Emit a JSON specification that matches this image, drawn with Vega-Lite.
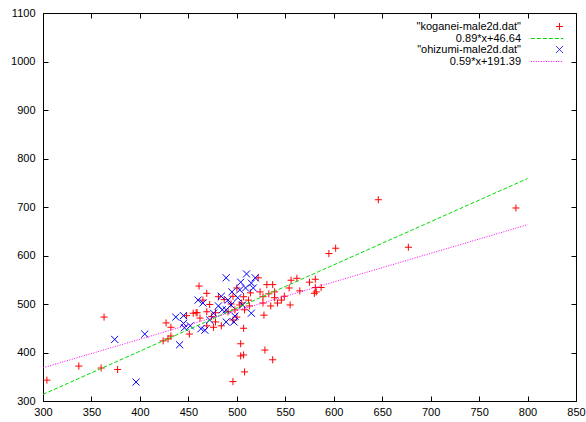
{
  "$schema": "https://vega.github.io/schema/vega-lite/v6.json",
  "width": 533,
  "height": 388,
  "autosize": {"type": "none"},
  "padding": {"left": 43, "top": 13, "right": 10, "bottom": 21},
  "background": "white",
  "config": {
    "font": "Liberation Sans",
    "view": {"stroke": "black", "strokeWidth": 1},
    "axis": {
      "grid": false,
      "domain": false,
      "tickColor": "black",
      "tickWidth": 1,
      "tickSize": -5,
      "labelColor": "black",
      "labelFontSize": 11,
      "labelFont": "Liberation Sans",
      "labelFlush": false,
      "labelOverlap": false,
      "format": "d",
      "title": null
    },
    "legend": {
      "orient": "none",
      "legendX": 511,
      "legendY": 8,
      "title": null,
      "symbolSize": 50,
      "symbolStrokeWidth": 1,
      "symbolFillColor": "transparent",
      "labelAlign": "right",
      "labelOffset": -44,
      "labelFontSize": 11,
      "labelFont": "Liberation Sans",
      "labelColor": "black",
      "rowPadding": -2,
      "padding": 0,
      "labelLimit": 300
    }
  },
  "datasets": {
    "pts": [
      {"series": "\"koganei-male2d.dat\"", "x": 304, "y": 343},
      {"series": "\"koganei-male2d.dat\"", "x": 337, "y": 372},
      {"series": "\"koganei-male2d.dat\"", "x": 360, "y": 368},
      {"series": "\"koganei-male2d.dat\"", "x": 377, "y": 365},
      {"series": "\"koganei-male2d.dat\"", "x": 363, "y": 473},
      {"series": "\"koganei-male2d.dat\"", "x": 646, "y": 715},
      {"series": "\"koganei-male2d.dat\"", "x": 788, "y": 698},
      {"series": "\"koganei-male2d.dat\"", "x": 677, "y": 617},
      {"series": "\"koganei-male2d.dat\"", "x": 602, "y": 615},
      {"series": "\"koganei-male2d.dat\"", "x": 595, "y": 604},
      {"series": "\"koganei-male2d.dat\"", "x": 575, "y": 545},
      {"series": "\"koganei-male2d.dat\"", "x": 581, "y": 551},
      {"series": "\"koganei-male2d.dat\"", "x": 565, "y": 527},
      {"series": "\"koganei-male2d.dat\"", "x": 581, "y": 534},
      {"series": "\"koganei-male2d.dat\"", "x": 587, "y": 534},
      {"series": "\"koganei-male2d.dat\"", "x": 580, "y": 522},
      {"series": "\"koganei-male2d.dat\"", "x": 582, "y": 525},
      {"series": "\"koganei-male2d.dat\"", "x": 496, "y": 340},
      {"series": "\"koganei-male2d.dat\"", "x": 508, "y": 360},
      {"series": "\"koganei-male2d.dat\"", "x": 504, "y": 393},
      {"series": "\"koganei-male2d.dat\"", "x": 507, "y": 395},
      {"series": "\"koganei-male2d.dat\"", "x": 504, "y": 418},
      {"series": "\"koganei-male2d.dat\"", "x": 529, "y": 405},
      {"series": "\"koganei-male2d.dat\"", "x": 537, "y": 385},
      {"series": "\"koganei-male2d.dat\"", "x": 427, "y": 461},
      {"series": "\"koganei-male2d.dat\"", "x": 432, "y": 452},
      {"series": "\"koganei-male2d.dat\"", "x": 424, "y": 424},
      {"series": "\"koganei-male2d.dat\"", "x": 429, "y": 428},
      {"series": "\"koganei-male2d.dat\"", "x": 432, "y": 434},
      {"series": "\"koganei-male2d.dat\"", "x": 448, "y": 476},
      {"series": "\"koganei-male2d.dat\"", "x": 451, "y": 438},
      {"series": "\"koganei-male2d.dat\"", "x": 455, "y": 481},
      {"series": "\"koganei-male2d.dat\"", "x": 458, "y": 482},
      {"series": "\"koganei-male2d.dat\"", "x": 459, "y": 482},
      {"series": "\"koganei-male2d.dat\"", "x": 462, "y": 471},
      {"series": "\"koganei-male2d.dat\"", "x": 465, "y": 508},
      {"series": "\"koganei-male2d.dat\"", "x": 461, "y": 537},
      {"series": "\"koganei-male2d.dat\"", "x": 469, "y": 522},
      {"series": "\"koganei-male2d.dat\"", "x": 472, "y": 499},
      {"series": "\"koganei-male2d.dat\"", "x": 469, "y": 484},
      {"series": "\"koganei-male2d.dat\"", "x": 474, "y": 474},
      {"series": "\"koganei-male2d.dat\"", "x": 478, "y": 482},
      {"series": "\"koganei-male2d.dat\"", "x": 481, "y": 515},
      {"series": "\"koganei-male2d.dat\"", "x": 484, "y": 455},
      {"series": "\"koganei-male2d.dat\"", "x": 476, "y": 452},
      {"series": "\"koganei-male2d.dat\"", "x": 469, "y": 455},
      {"series": "\"koganei-male2d.dat\"", "x": 478, "y": 463},
      {"series": "\"koganei-male2d.dat\"", "x": 487, "y": 509},
      {"series": "\"koganei-male2d.dat\"", "x": 491, "y": 484},
      {"series": "\"koganei-male2d.dat\"", "x": 494, "y": 500},
      {"series": "\"koganei-male2d.dat\"", "x": 496, "y": 516},
      {"series": "\"koganei-male2d.dat\"", "x": 498, "y": 488},
      {"series": "\"koganei-male2d.dat\"", "x": 500, "y": 533},
      {"series": "\"koganei-male2d.dat\"", "x": 503, "y": 498},
      {"series": "\"koganei-male2d.dat\"", "x": 496, "y": 467},
      {"series": "\"koganei-male2d.dat\"", "x": 500, "y": 473},
      {"series": "\"koganei-male2d.dat\"", "x": 505, "y": 502},
      {"series": "\"koganei-male2d.dat\"", "x": 507, "y": 515},
      {"series": "\"koganei-male2d.dat\"", "x": 508, "y": 488},
      {"series": "\"koganei-male2d.dat\"", "x": 512, "y": 508},
      {"series": "\"koganei-male2d.dat\"", "x": 513, "y": 496},
      {"series": "\"koganei-male2d.dat\"", "x": 514, "y": 523},
      {"series": "\"koganei-male2d.dat\"", "x": 522, "y": 554},
      {"series": "\"koganei-male2d.dat\"", "x": 524, "y": 525},
      {"series": "\"koganei-male2d.dat\"", "x": 527, "y": 515},
      {"series": "\"koganei-male2d.dat\"", "x": 531, "y": 540},
      {"series": "\"koganei-male2d.dat\"", "x": 533, "y": 521},
      {"series": "\"koganei-male2d.dat\"", "x": 537, "y": 540},
      {"series": "\"koganei-male2d.dat\"", "x": 539, "y": 525},
      {"series": "\"koganei-male2d.dat\"", "x": 535, "y": 496},
      {"series": "\"koganei-male2d.dat\"", "x": 528, "y": 477},
      {"series": "\"koganei-male2d.dat\"", "x": 527, "y": 502},
      {"series": "\"koganei-male2d.dat\"", "x": 539, "y": 513},
      {"series": "\"koganei-male2d.dat\"", "x": 542, "y": 502},
      {"series": "\"koganei-male2d.dat\"", "x": 546, "y": 508},
      {"series": "\"koganei-male2d.dat\"", "x": 549, "y": 516},
      {"series": "\"koganei-male2d.dat\"", "x": 556, "y": 549},
      {"series": "\"koganei-male2d.dat\"", "x": 562, "y": 553},
      {"series": "\"koganei-male2d.dat\"", "x": 554, "y": 533},
      {"series": "\"koganei-male2d.dat\"", "x": 555, "y": 498},
      {"series": "\"koganei-male2d.dat\"", "x": 507, "y": 450},
      {"series": "\"ohizumi-male2d.dat\"", "x": 374, "y": 427},
      {"series": "\"ohizumi-male2d.dat\"", "x": 396, "y": 339},
      {"series": "\"ohizumi-male2d.dat\"", "x": 405, "y": 438},
      {"series": "\"ohizumi-male2d.dat\"", "x": 437, "y": 473},
      {"series": "\"ohizumi-male2d.dat\"", "x": 441, "y": 416},
      {"series": "\"ohizumi-male2d.dat\"", "x": 445, "y": 476},
      {"series": "\"ohizumi-male2d.dat\"", "x": 445, "y": 460},
      {"series": "\"ohizumi-male2d.dat\"", "x": 446, "y": 451},
      {"series": "\"ohizumi-male2d.dat\"", "x": 452, "y": 455},
      {"series": "\"ohizumi-male2d.dat\"", "x": 465, "y": 502},
      {"series": "\"ohizumi-male2d.dat\"", "x": 467, "y": 446},
      {"series": "\"ohizumi-male2d.dat\"", "x": 472, "y": 467},
      {"series": "\"ohizumi-male2d.dat\"", "x": 476, "y": 481},
      {"series": "\"ohizumi-male2d.dat\"", "x": 481, "y": 496},
      {"series": "\"ohizumi-male2d.dat\"", "x": 484, "y": 516},
      {"series": "\"ohizumi-male2d.dat\"", "x": 489, "y": 554},
      {"series": "\"ohizumi-male2d.dat\"", "x": 489, "y": 488},
      {"series": "\"ohizumi-male2d.dat\"", "x": 491, "y": 508},
      {"series": "\"ohizumi-male2d.dat\"", "x": 494, "y": 498},
      {"series": "\"ohizumi-male2d.dat\"", "x": 497, "y": 463},
      {"series": "\"ohizumi-male2d.dat\"", "x": 498, "y": 475},
      {"series": "\"ohizumi-male2d.dat\"", "x": 501, "y": 513},
      {"series": "\"ohizumi-male2d.dat\"", "x": 503, "y": 529},
      {"series": "\"ohizumi-male2d.dat\"", "x": 504, "y": 545},
      {"series": "\"ohizumi-male2d.dat\"", "x": 506, "y": 498},
      {"series": "\"ohizumi-male2d.dat\"", "x": 510, "y": 562},
      {"series": "\"ohizumi-male2d.dat\"", "x": 515, "y": 543},
      {"series": "\"ohizumi-male2d.dat\"", "x": 515, "y": 481},
      {"series": "\"ohizumi-male2d.dat\"", "x": 517, "y": 533},
      {"series": "\"ohizumi-male2d.dat\"", "x": 519, "y": 554},
      {"series": "\"ohizumi-male2d.dat\"", "x": 509, "y": 533},
      {"series": "\"ohizumi-male2d.dat\"", "x": 495, "y": 525},
      {"series": "\"ohizumi-male2d.dat\"", "x": 485, "y": 488},
      {"series": "\"ohizumi-male2d.dat\"", "x": 460, "y": 508},
      {"series": "\"ohizumi-male2d.dat\"", "x": 463, "y": 449},
      {"series": "\"ohizumi-male2d.dat\"", "x": 489, "y": 463}
    ],
    "fits": [
      {"series": "0.89*x+46.64", "x": 300, "y": 313.64},
      {"series": "0.89*x+46.64", "x": 800, "y": 758.64},
      {"series": "0.59*x+191.39", "x": 300, "y": 368.39},
      {"series": "0.59*x+191.39", "x": 800, "y": 663.39}
    ]
  },
  "layer": [
    {
      "data": {"name": "pts"},
      "mark": {"type": "point", "filled": false, "size": 50, "strokeWidth": 1, "opacity": 1},
      "encoding": {
        "x": {
          "field": "x", "type": "quantitative",
          "scale": {"domain": [300, 850], "nice": false, "zero": false},
          "axis": {"orient": "bottom", "values": [300, 350, 400, 450, 500, 550, 600, 650, 700, 750, 800, 850], "labelPadding": 10}
        },
        "y": {
          "field": "y", "type": "quantitative",
          "scale": {"domain": [300, 1100], "nice": false, "zero": false},
          "axis": {"orient": "left", "values": [300, 400, 500, 600, 700, 800, 900, 1000, 1100], "labelPadding": 13}
        },
        "stroke": {
          "field": "series", "type": "nominal",
          "scale": {
            "domain": ["\"koganei-male2d.dat\"", "0.89*x+46.64", "\"ohizumi-male2d.dat\"", "0.59*x+191.39"],
            "range": ["#ff0000", "#00dd00", "#0000ff", "#ff00ff"]
          }
        },
        "shape": {
          "field": "series", "type": "nominal",
          "scale": {
            "domain": ["\"koganei-male2d.dat\"", "0.89*x+46.64", "\"ohizumi-male2d.dat\"", "0.59*x+191.39"],
            "range": ["M-1,0L1,0M0,-1L0,1", "M-8.1,0L1.1,0", "M-1,-1L1,1M-1,1L1,-1", "M-8.1,0L1.1,0"]
          }
        }
      }
    },
    {
      "data": {"name": "fits"},
      "mark": {"type": "line", "strokeWidth": 1},
      "encoding": {
        "x": {
          "field": "x", "type": "quantitative",
          "axis": {"orient": "top", "values": [300, 350, 400, 450, 500, 550, 600, 650, 700, 750, 800, 850], "labels": false}
        },
        "y": {
          "field": "y", "type": "quantitative",
          "axis": {"orient": "right", "values": [300, 400, 500, 600, 700, 800, 900, 1000, 1100], "labels": false}
        },
        "stroke": {"field": "series", "type": "nominal"},
        "strokeDash": {
          "field": "series", "type": "nominal",
          "scale": {
            "domain": ["\"koganei-male2d.dat\"", "0.89*x+46.64", "\"ohizumi-male2d.dat\"", "0.59*x+191.39"],
            "range": [[1, 0], [4, 2], [1, 0], [1, 1.5]]
          }
        }
      }
    }
  ],
  "resolve": {"axis": {"x": "independent", "y": "independent"}}
}
